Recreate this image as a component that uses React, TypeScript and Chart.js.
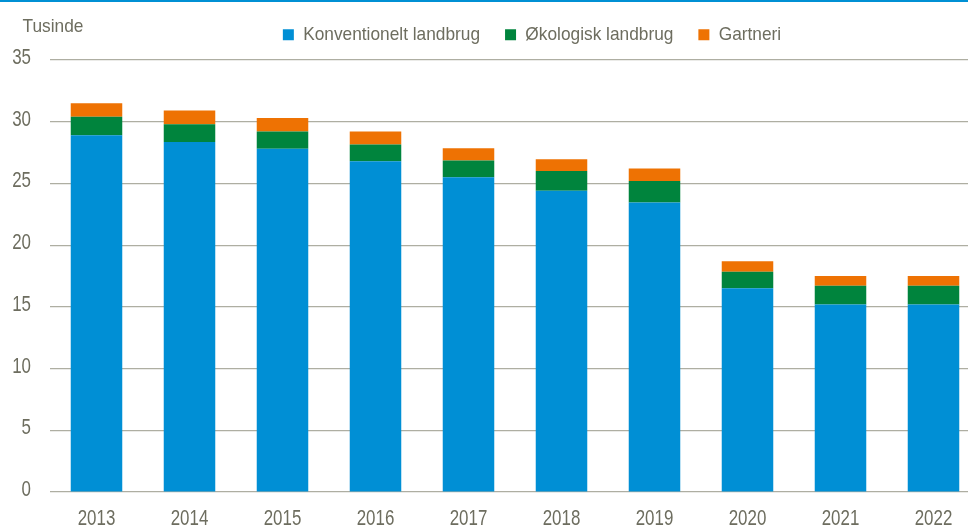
import React, { useEffect, useRef } from "react";
import { Chart, registerables } from "chart.js";

Chart.register(...registerables);

const years = ["2013", "2014", "2015", "2016", "2017", "2018", "2019", "2020", "2021", "2022"];
const konventionelt = [28.9, 28.35, 27.8, 26.8, 25.5, 24.4, 23.45, 16.5, 15.2, 15.2];
const oekologisk = [1.5, 1.45, 1.4, 1.35, 1.35, 1.6, 1.75, 1.35, 1.5, 1.5];
const gartneri = [1.1, 1.1, 1.1, 1.05, 1.0, 0.95, 1.0, 0.85, 0.8, 0.8];
const seriesNames = ["Konventionelt landbrug", "Økologisk landbrug", "Gartneri"];
const unitLabel = "Tusinde";

const FONT = "'Liberation Sans', Arial, sans-serif";
const TICK_SIZE = 22;
const LABEL_SIZE = 18.6;
const TEXT = "#6d6d5f";
const GRID = "#aeaea2";
const BLUE = "#008fd5";
const GREEN = "#00843d";
const ORANGE = "#ee7203";

const LEGEND_DX = 42;
const LEGEND_DY = -6;

// Horizontal compression of glyphs to emulate the narrow face of the original
function stretchFor(font: string) {
  const m = /([\d.]+)px/.exec(font || "");
  const size = m ? parseFloat(m[1]) : 12;
  return size >= 21 ? 0.77 : 0.93;
}

function narrowContext(ctx: any) {
  if (!ctx || ctx.__narrowed) return;
  ctx.__narrowed = true;
  const origFill = ctx.fillText.bind(ctx);
  const origMeasure = ctx.measureText.bind(ctx);
  ctx.fillText = (text: string, x: number, y: number, maxWidth?: number) => {
    const k = stretchFor(ctx.font);
    ctx.save();
    ctx.translate(x, y);
    ctx.scale(k, 1);
    if (maxWidth !== undefined) origFill(text, 0, 0, maxWidth / k);
    else origFill(text, 0, 0);
    ctx.restore();
  };
  ctx.measureText = (text: string) => {
    const k = stretchFor(ctx.font);
    const m = origMeasure(text);
    return {
      width: m.width * k,
      actualBoundingBoxLeft: m.actualBoundingBoxLeft * k,
      actualBoundingBoxRight: m.actualBoundingBoxRight * k,
      actualBoundingBoxAscent: m.actualBoundingBoxAscent,
      actualBoundingBoxDescent: m.actualBoundingBoxDescent,
      fontBoundingBoxAscent: m.fontBoundingBoxAscent,
      fontBoundingBoxDescent: m.fontBoundingBoxDescent,
    };
  };
}

const decor = {
  id: "decor",
  afterLayout(chart: any) {
    const lg = chart.legend;
    if (lg) {
      lg.left += LEGEND_DX;
      lg.right += LEGEND_DX;
      lg.top += LEGEND_DY;
      lg.bottom += LEGEND_DY;
    }
  },
  afterDraw(chart: any) {
    const ctx = chart.ctx;
    ctx.save();
    ctx.fillStyle = "#0090d4";
    ctx.fillRect(0, 0, chart.width, 2);
    ctx.fillStyle = TEXT;
    ctx.font = `${LABEL_SIZE}px ${FONT}`;
    ctx.textAlign = "left";
    ctx.textBaseline = "alphabetic";
    ctx.fillText(unitLabel, 22.5, 32.3);
    ctx.restore();
  },
};

export default function App() {
  const ref = useRef<HTMLCanvasElement | null>(null);

  useEffect(() => {
    document.body.style.margin = "0";
    const canvas = ref.current as HTMLCanvasElement;
    narrowContext(canvas.getContext("2d"));
    const chart = new Chart(canvas, {
      type: "bar",
      data: {
        labels: years,
        datasets: [
          { label: seriesNames[0], data: konventionelt, backgroundColor: BLUE },
          { label: seriesNames[1], data: oekologisk, backgroundColor: GREEN },
          { label: seriesNames[2], data: gartneri, backgroundColor: ORANGE },
        ],
      },
      options: {
        animation: false,
        responsive: true,
        maintainAspectRatio: false,
        layout: { padding: { top: 6.4, left: 0, right: 0, bottom: 0 } },
        datasets: {
          bar: { categoryPercentage: 1, barPercentage: 0.554 },
        },
        plugins: {
          tooltip: { enabled: false },
          legend: {
            position: "top",
            align: "center",
            labels: {
              boxWidth: 11,
              boxHeight: 11,
              padding: 25,
              color: TEXT,
              font: { family: FONT, size: LABEL_SIZE },
            },
          },
        },
        scales: {
          x: {
            stacked: true,
            grid: { display: false, drawTicks: false },
            border: { display: false },
            ticks: { color: TEXT, font: { family: FONT, size: TICK_SIZE }, padding: 14, maxRotation: 0 },
            afterFit: (axis: any) => {
              axis.height = 35;
            },
          },
          y: {
            stacked: true,
            min: 0,
            max: 35,
            grid: { color: GRID, lineWidth: 1.2, drawTicks: false },
            border: { display: false },
            ticks: {
              stepSize: 5,
              color: TEXT,
              font: { family: FONT, size: TICK_SIZE },
              padding: 19,
              labelOffset: -2,
            },
            afterFit: (axis: any) => {
              axis.width = 50;
            },
          },
        },
      },
      plugins: [decor],
    });
    return () => chart.destroy();
  }, []);

  return (
    <div style={{ width: 968, height: 527, overflow: "hidden", position: "relative" }}>
      <div style={{ width: 980, height: 527, position: "absolute", left: 0, top: 0 }}>
        <canvas ref={ref} />
      </div>
    </div>
  );
}
